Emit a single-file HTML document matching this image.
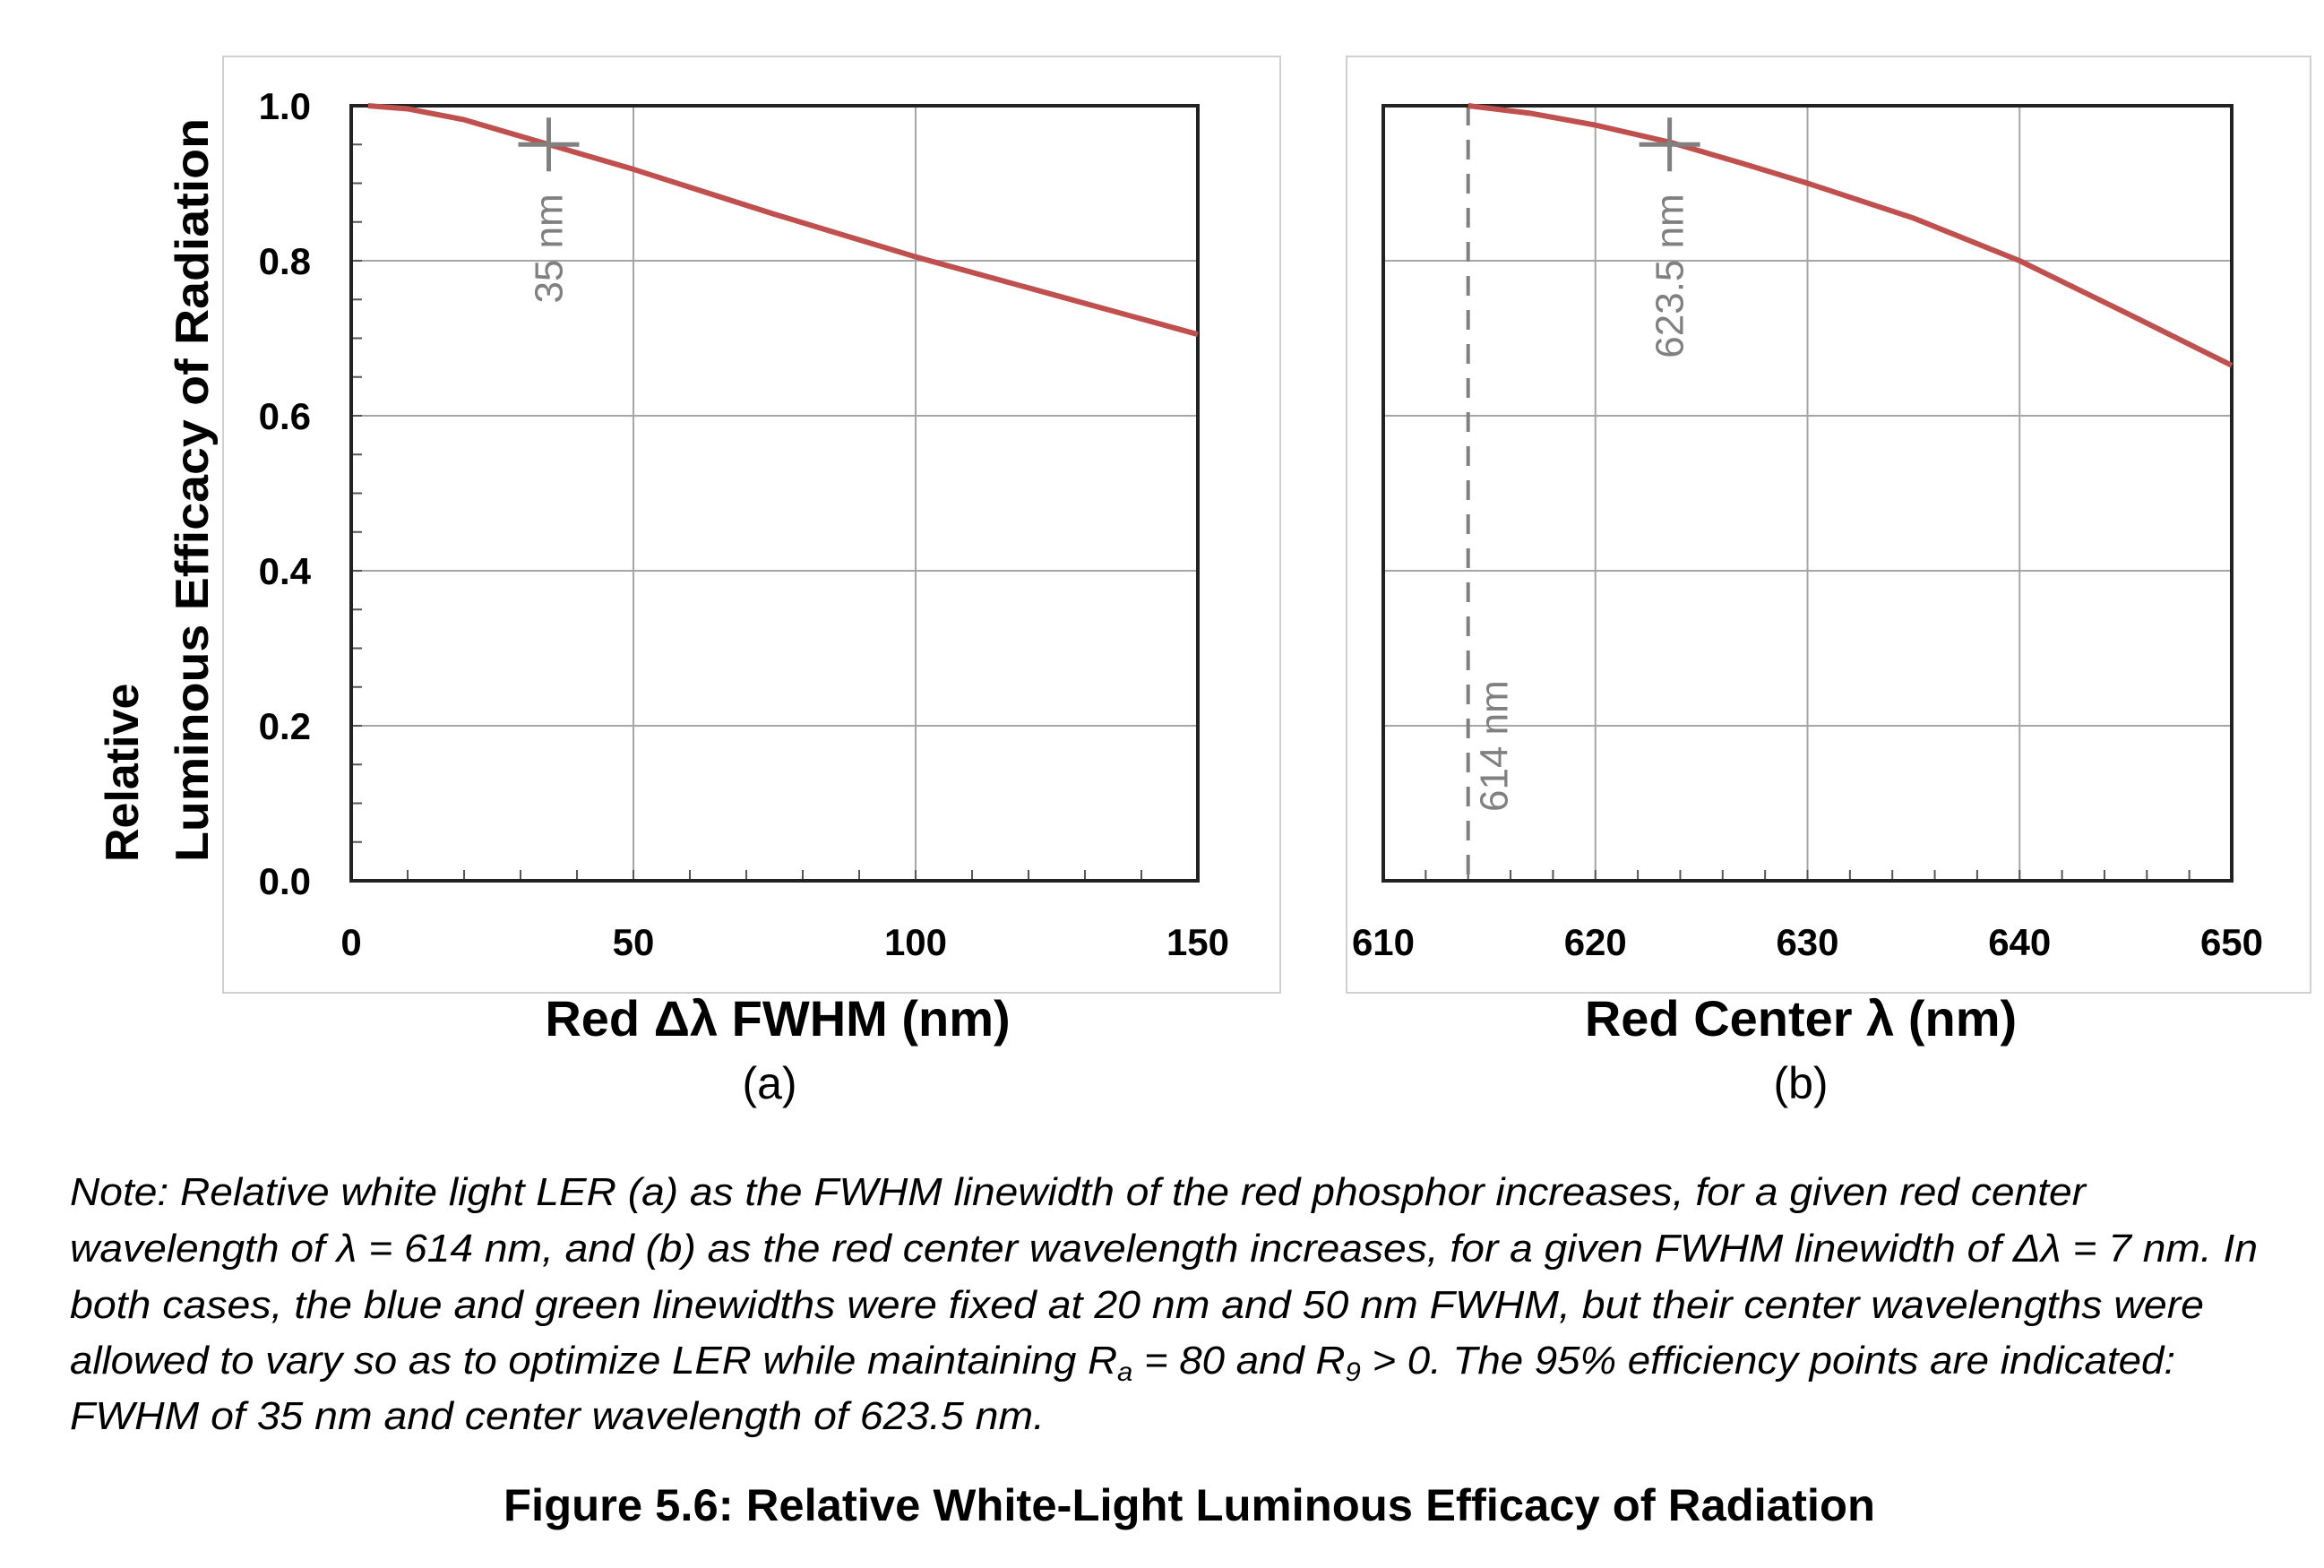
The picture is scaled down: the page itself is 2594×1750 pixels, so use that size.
<!DOCTYPE html>
<html><head><meta charset="utf-8"><style>
html,body{margin:0;padding:0;background:#fff;}
svg{display:block;font-family:"Liberation Sans",sans-serif;}
</style></head><body>
<svg id="fig" width="2594" height="1750" viewBox="0 0 2594 1750" xmlns="http://www.w3.org/2000/svg">
<rect x="249" y="63" width="1180" height="1045" fill="none" stroke="#d0d0d0" stroke-width="2"/>
<rect x="1503" y="63" width="1076" height="1045" fill="none" stroke="#d0d0d0" stroke-width="2"/>
<g id="pa"></g>
<g id="pb"></g>
<g font-weight="bold" fill="#000">
<text transform="translate(154,962) rotate(-90)" font-size="52">Relative</text>
<text transform="translate(232,962) rotate(-90)" font-size="52" textLength="830" lengthAdjust="spacingAndGlyphs">Luminous Efficacy of Radiation</text>
</g>
<text x="868" y="1156" text-anchor="middle" font-size="56" font-weight="bold">Red Δλ FWHM (nm)</text>
<text x="859" y="1226" text-anchor="middle" font-size="50">(a)</text>
<text x="2010" y="1156" text-anchor="middle" font-size="56" font-weight="bold">Red Center λ (nm)</text>
<text x="2010" y="1226" text-anchor="middle" font-size="50">(b)</text>
<g font-size="44" font-style="italic" fill="#000">
<text x="78" y="1345" textLength="2250" lengthAdjust="spacingAndGlyphs">Note: Relative white light LER (a) as the FWHM linewidth of the red phosphor increases, for a given red center</text>
<text x="78" y="1408" textLength="2442" lengthAdjust="spacingAndGlyphs">wavelength of λ = 614 nm, and (b) as the red center wavelength increases, for a given FWHM linewidth of Δλ = 7 nm. In</text>
<text x="78" y="1471" textLength="2382" lengthAdjust="spacingAndGlyphs">both cases, the blue and green linewidths were fixed at 20 nm and 50 nm FWHM, but their center wavelengths were</text>
<text x="78" y="1533" textLength="2350" lengthAdjust="spacingAndGlyphs">allowed to vary so as to optimize LER while maintaining R<tspan font-size="30" dy="8">a</tspan><tspan dy="-8"> = 80 and R</tspan><tspan font-size="30" dy="8">9</tspan><tspan dy="-8"> &gt; 0. The 95% efficiency points are indicated:</tspan></text>
<text x="78" y="1595" textLength="1088" lengthAdjust="spacingAndGlyphs">FWHM of 35 nm and center wavelength of 623.5 nm.</text>
</g>
<text x="562" y="1697" font-size="50" font-weight="bold" textLength="1531" lengthAdjust="spacingAndGlyphs">Figure 5.6: Relative White-Light Luminous Efficacy of Radiation</text>
</svg>
<script>
const aX = [3, 10, 20, 35, 50, 75, 100, 125, 150];
const aY = [1.0, 0.996, 0.982, 0.95, 0.918, 0.86, 0.805, 0.755, 0.705];
const aXTicks = ["0", "50", "100", "150"];
const bX = [614, 617, 620, 623.5, 627, 630, 635, 640, 645, 650];
const bY = [1.0, 0.99, 0.975, 0.953, 0.925, 0.9, 0.855, 0.8, 0.733, 0.665];
const bXTicks = ["610", "620", "630", "640", "650"];
const yTicks = ["0.0", "0.2", "0.4", "0.6", "0.8", "1.0"];
const aMarker = [35, 0.95];
const bMarker = [623.5, 0.95];
const bRef = 614;

const NS = "http://www.w3.org/2000/svg";
function mk(tag, attrs, parent) {
  const e = document.createElementNS(NS, tag);
  for (const k in attrs) e.setAttribute(k, attrs[k]);
  parent.appendChild(e);
  return e;
}
const T = 118, B = 983;
function yS(v) { return B - (v - 0) / 1.0 * (B - T); }

function chart(g, L, R, x0, x1, xs, ys, xticks, minorStep, showY, marker, mlabel, mlx) {
  const xS = v => L + (v - x0) / (x1 - x0) * (R - L);
  yTicks.forEach(t => {
    const v = parseFloat(t);
    const l = mk('line', {x1: L, x2: R, y1: yS(v), y2: yS(v), stroke: '#a6a6a6', 'stroke-width': 2}, g);
    
    
  });
  xticks.forEach(t => {
    const v = parseFloat(t);
    const l = mk('line', {x1: xS(v), x2: xS(v), y1: T, y2: B, stroke: '#a6a6a6', 'stroke-width': 2}, g);
    
    
    const tx = mk('text', {x: xS(v), y: 1066, 'text-anchor': 'middle', 'font-size': 42, 'font-weight': 'bold'}, g);
    tx.textContent = t;
    
    
  });
  for (let v = x0; v <= x1 + 1e-9; v += minorStep) {
    const l = mk('line', {x1: xS(v), x2: xS(v), y1: B, y2: B - 12, stroke: '#555', 'stroke-width': 2}, g);
    
    
  }
  if (showY) {
    for (let v = 0; v <= 1.0001; v += 0.05) {
      const l = mk('line', {x1: L, x2: L + 12, y1: yS(v), y2: yS(v), stroke: '#555', 'stroke-width': 2}, g);
      
      
    }
    yTicks.forEach(t => {
      const tx = mk('text', {x: 347, y: yS(parseFloat(t)) + 15, 'text-anchor': 'end', 'font-size': 42, 'font-weight': 'bold'}, g);
      tx.textContent = t;
      
      
    });
  }
  if (mlx !== null) {
    const d = mk('line', {x1: xS(mlx), x2: xS(mlx), y1: T, y2: B, stroke: '#808080', 'stroke-width': 4, 'stroke-dasharray': '22 16'}, g);
    
    
    const tl = mk('text', {transform: `translate(${xS(mlx) + 44},906) rotate(-90)`, 'font-size': 44, fill: '#808080'}, g);
    tl.textContent = '614 nm';
    
    
  }
  const frame = mk('rect', {x: L, y: T, width: R - L, height: B - T, fill: 'none', stroke: '#222', 'stroke-width': 4}, g);
  
  
  const p = mk('polyline', {points: xs.map((x, i) => xS(x) + ',' + yS(ys[i])).join(' '), fill: 'none', stroke: '#c0504d', 'stroke-width': 6, 'stroke-linejoin': 'round'}, g);
  
  
  const mx = xS(marker[0]), my = yS(marker[1]);
  const m = mk('path', {d: `M${mx - 34},${my} H${mx + 34} M${mx},${my - 30} V${my + 30}`, stroke: '#808080', 'stroke-width': 5}, g);
  
  
  const ml = mk('text', {transform: `translate(${mx + 15},${my + 55}) rotate(-90)`, 'text-anchor': 'end', 'font-size': 44, fill: '#808080'}, g);
  ml.textContent = mlabel;
  
  
}
chart(document.getElementById('pa'), 392, 1337, 0, 150, aX, aY, aXTicks, 10, true, aMarker, '35 nm', null);
chart(document.getElementById('pb'), 1544, 2491, 610, 650, bX, bY, bXTicks, 2, false, bMarker, '623.5 nm', bRef);
</script>
</body></html>
